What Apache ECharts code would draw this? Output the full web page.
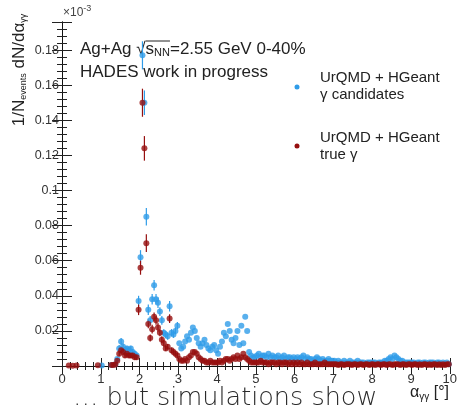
<!DOCTYPE html>
<html>
<head>
<meta charset="utf-8">
<script src="https://cdn.jsdelivr.net/npm/echarts@6/dist/echarts.min.js"></script>
<style>html,body{margin:0;padding:0;background:#fff}#c{width:460px;height:411px}</style>
</head>
<body>
<div id="c"></div>
<script>
// ---- data (values in units of 10^-3) ----
const binWidth = 0.05;
const firstBinCenter = 1.425;
const lowRed = [[0.175,0.0003],[0.275,0.0002],[0.375,0.0003],[0.925,0.0004],[1.275,0.0005],[1.325,0.0005],[1.375,0.0008]];
const lowBlue = [[1.025,0.0003],[1.275,0.0006],[1.375,0.0010]];
const blue14to3 = [0.004,0.010,0.014,0.011,0.009,0.010,0.009,0.010,0.008,0.007,0.006,
  0.037,0.062,0.177,0.150,0.085,
  0.032,0.026,0.038,0.046,0.038,0.036,0.031,0.026,0.019,0.018,0.017,0.034,0.019,0.018,0.020,0.023];
const red14to3 = [0.003,0.007,0.009,0.008,0.006,0.007,0.006,0.006,0.006,0.005,0.005,
  0.032,0.056,0.150,0.124,0.070,
  0.024,0.016,0.021,0.028,0.026,0.022,0.019,0.015,0.013,0.010,0.011,0.027,0.009,0.008,0.007,0.006];
const errBlue14to3 = [0.001,0.002,0.002,0.002,0.0015,0.0015,0.0015,0.0015,0.0015,0.0015,0.0015,
  0.003,0.004,0.008,0.007,0.005,
  0.003,0.0025,0.003,0.003,0.003,0.003,0.0025,0.0025,0.002,0.002,0.002,0.003,0.002,0.002,0.002,0.002];
const errRed14to3 = [0.001,0.0015,0.0015,0.0015,0.0015,0.0015,0.0015,0.0015,0.0015,0.0015,0.0015,
  0.003,0.004,0.008,0.007,0.005,
  0.0025,0.002,0.0025,0.0025,0.0025,0.0025,0.002,0.002,0.002,0.0015,0.0015,0.0025,0.0015,0.0015,0.0015,0.0015];
const blue3to5 = [0.013,0.010,0.011,0.014,0.017,0.015,0.019,0.022,0.020,0.016,
  0.013,0.011,0.013,0.015,0.012,0.010,0.009,0.011,0.012,0.009,
  0.007,0.011,0.014,0.019,0.017,0.024,0.020,0.015,0.013,0.016,
  0.020,0.012,0.023,0.013,0.028,0.020,0.008,0.006,0.005,0.005];
const red3to5 = [0.004,0.003,0.003,0.004,0.003,0.005,0.006,0.008,0.008,0.007,
  0.005,0.004,0.003,0.003,0.002,0.002,0.003,0.002,0.002,0.002,
  0.002,0.003,0.002,0.003,0.004,0.004,0.003,0.004,0.005,0.004,
  0.006,0.004,0.005,0.007,0.005,0.004,0.003,0.002,0.002,0.002];
const blue5to10 = [
  0.006,0.007,0.005,0.006,0.006,0.005,0.007,0.005,0.006,0.005,0.005,0.006,0.004,0.005,0.006,0.004,0.005,0.005,0.004,0.005,
  0.004,0.005,0.004,0.005,0.006,0.004,0.005,0.004,0.004,0.003,0.004,0.005,0.004,0.003,0.004,0.003,0.003,0.004,0.003,0.003,
  0.003,0.002,0.003,0.002,0.002,0.003,0.002,0.002,0.003,0.002,0.002,0.002,0.003,0.002,0.002,0.002,0.001,0.002,0.002,0.002,
  0.002,0.002,0.001,0.002,0.002,0.002,0.003,0.003,0.004,0.005,0.004,0.006,0.005,0.004,0.003,0.003,0.002,0.002,0.002,0.002,
  0.002,0.002,0.001,0.002,0.002,0.001,0.002,0.002,0.001,0.002,0.002,0.002,0.001,0.002,0.002,0.001,0.002,0.001,0.002,0.001];
const red5to10 = [
  0.002,0.002,0.003,0.002,0.002,0.002,0.001,0.002,0.002,0.002,0.001,0.002,0.002,0.001,0.002,0.002,0.001,0.002,0.001,0.002,
  0.001,0.002,0.001,0.002,0.001,0.001,0.002,0.001,0.001,0.001,0.002,0.001,0.001,0.001,0.001,0.002,0.001,0.001,0.001,0.001,
  0.001,0.001,0.0005,0.001,0.001,0.0005,0.001,0.001,0.001,0.0005,0.001,0.001,0.0005,0.001,0.001,0.0005,0.001,0.001,0.0005,0.001,
  0.001,0.0005,0.001,0.001,0.0005,0.001,0.001,0.0005,0.001,0.001,0.0005,0.001,0.001,0.001,0.0005,0.001,0.001,0.0005,0.001,0.001,
  0.0005,0.001,0.001,0.0005,0.001,0.0005,0.001,0.001,0.0005,0.001,0.0005,0.001,0.001,0.0005,0.001,0.0005,0.001,0.0005,0.001,0.001];
const xTicks = [0,1,2,3,4,5,6,7,8,9,10];

// ---- build series data ----
function build(low, arrs, errs) {
  const pts = low.map(p => [p[0], p[1], 0]);
  const vals = [].concat(...arrs);
  vals.forEach((v, i) => {
    const e = i < errs.length ? errs[i] : 0;
    pts.push([+(firstBinCenter + i * binWidth).toFixed(3), v, e]);
  });
  return pts;
}
const blueData = build(lowBlue, [blue14to3, blue3to5, blue5to10], errBlue14to3);
const redData = build(lowRed, [red14to3, red3to5, red5to10], errRed14to3);

const BLUE = '#2f9ce8', RED = '#960f0f';
const FONT = '"Liberation Sans", Arial, Helvetica, sans-serif';

function errSeries(data, color) {
  return {
    type: 'custom', data: data.filter(d => d[2] > 0), z: 2,
    renderItem: function (params, api) {
      const x = api.value(0), y = api.value(1), e = api.value(2);
      const p1 = api.coord([x, y - e]), p2 = api.coord([x, y + e]);
      return { type: 'line', shape: { x1: p1[0], y1: p1[1], x2: p2[0], y2: p2[1] },
        style: { stroke: color, lineWidth: 1.2 } };
    },
    encode: { x: 0, y: 1 }, silent: true
  };
}

const common = {
  min: 0, axisLine: { show: true, lineStyle: { color: '#111', width: 1 } },
  splitLine: { show: false }
};
const xBase = Object.assign({}, common, {
  type: 'value', max: 10, interval: 1,
  axisTick: { show: true, inside: true, length: 8, lineStyle: { color: '#222' } },
  minorTick: { show: true, splitNumber: 5, length: 4, lineStyle: { color: '#222' } }
});
const yBase = Object.assign({}, common, {
  type: 'value', max: 0.196, interval: 0.02,
  axisTick: { show: true, inside: true, length: 10, lineStyle: { color: '#222' } },
  minorTick: { show: true, splitNumber: 5, length: 5, lineStyle: { color: '#222' } }
});

function yFmt(v) {
  if (v === 0) return '';
  const k = v / 0.02;
  if (Math.abs(k - Math.round(k)) > 1e-6) return '';
  return String(+v.toFixed(2));
}

// measure helper for the sqrt overline
const mctx = document.createElement('canvas').getContext('2d');
function mw(t, size) { mctx.font = size + 'px ' + FONT; return mctx.measureText(t).width; }
const t1x = 80, t1y = 49;
const olStart = t1x + mw('Ag+Ag \u221A', 17);
const olEnd = olStart + mw('s', 17) + mw('NN', 11);

const option = {
  animation: false,
  grid: { left: 62, right: 9, top: 22, bottom: 45 },
  xAxis: [
    Object.assign({}, xBase, { position: 'bottom',
      axisLabel: { show: true, fontFamily: FONT, fontSize: 13, color: '#333', margin: 7,
        formatter: v => (xTicks.indexOf(v) >= 0 ? String(v) : '') } }),
    Object.assign({}, xBase, { position: 'top', axisLabel: { show: false } })
  ],
  yAxis: [
    Object.assign({}, yBase, { position: 'left',
      axisLabel: { show: true, fontFamily: FONT, fontSize: 12.5, color: '#333', margin: 3, formatter: yFmt } }),
    Object.assign({}, yBase, { position: 'right', axisLabel: { show: false } })
  ],
  series: [
    errSeries(blueData, BLUE),
    { type: 'scatter', data: blueData.map(d => [d[0], d[1]]), symbol: 'circle', symbolSize: 6,
      itemStyle: { color: BLUE }, z: 3, silent: true },
    errSeries(redData, RED),
    { type: 'scatter', data: redData.map(d => [d[0], d[1]]), symbol: 'circle', symbolSize: 6,
      itemStyle: { color: RED }, z: 4, silent: true }
  ],
  graphic: [
    { type: 'text', left: 63, top: 4, style: { text: '{a|\u00D710}{b|-3}', rich: {
      a: { fontFamily: FONT, fontSize: 12, fill: '#444' },
      b: { fontFamily: FONT, fontSize: 9, fill: '#444', padding: [0, 0, 8, 0] } } } },
    { type: 'text', x: t1x, y: t1y, style: { text: '{m|Ag+Ag \u221As}{s|NN}{m|=2.55 GeV 0-40%}',
      verticalAlign: 'middle', rich: {
      m: { fontFamily: FONT, fontSize: 17, fill: '#222' },
      s: { fontFamily: FONT, fontSize: 11, fill: '#222', padding: [8, 0, 0, 0] } } } },
    { type: 'line', shape: { x1: olStart, y1: t1y - 8, x2: olEnd, y2: t1y - 8 },
      style: { stroke: '#222', lineWidth: 1 } },
    { type: 'text', x: 80, y: 72, style: { text: 'HADES work in progress', verticalAlign: 'middle',
      fontFamily: FONT, fontSize: 17, fill: '#222' } },
    { type: 'circle', shape: { cx: 297, cy: 87, r: 2.5 }, style: { fill: BLUE } },
    { type: 'text', x: 320, y: 78, style: { text: 'UrQMD + HGeant', verticalAlign: 'middle',
      fontFamily: FONT, fontSize: 15, fill: '#222' } },
    { type: 'text', x: 320, y: 95, style: { text: '\u03B3 candidates', verticalAlign: 'middle',
      fontFamily: FONT, fontSize: 15, fill: '#222' } },
    { type: 'circle', shape: { cx: 297, cy: 146, r: 2.5 }, style: { fill: RED } },
    { type: 'text', x: 320, y: 138, style: { text: 'UrQMD + HGeant', verticalAlign: 'middle',
      fontFamily: FONT, fontSize: 15, fill: '#222' } },
    { type: 'text', x: 320, y: 155, style: { text: 'true \u03B3', verticalAlign: 'middle',
      fontFamily: FONT, fontSize: 15, fill: '#222' } },
    // y axis title (rotated)
    { type: 'text', x: 19, y: 70, rotation: Math.PI / 2, style: {
      text: '{m|1/N}{s|events}{m| dN/d\u03B1}{s|\u03B3\u03B3}', align: 'center', verticalAlign: 'middle', rich: {
      m: { fontFamily: FONT, fontSize: 17, fill: '#222' },
      s: { fontFamily: FONT, fontSize: 9, fill: '#222', padding: [9, 0, 0, 0] } } } },
    // x axis title
    { type: 'text', x: 410, y: 393, style: {
      text: '{m|\u03B1}{s|\u03B3\u03B3}{m| [\u00B0]}', verticalAlign: 'middle', rich: {
      m: { fontFamily: FONT, fontSize: 16, fill: '#222' },
      s: { fontFamily: FONT, fontSize: 10, fill: '#222', padding: [9, 0, 0, 0] } } } },
    // caption
    { type: 'text', x: 73, y: 398, style: { text: '\u2026 but simulations show', verticalAlign: 'middle',
      fontFamily: '"DejaVu Sans", sans-serif', fontWeight: 200, fontSize: 25.5, fill: '#2a2a2a' } }
  ]
};
const chart = echarts.init(document.getElementById('c'), null, { renderer: 'canvas' });
chart.setOption(option);
</script>
</body>
</html>
